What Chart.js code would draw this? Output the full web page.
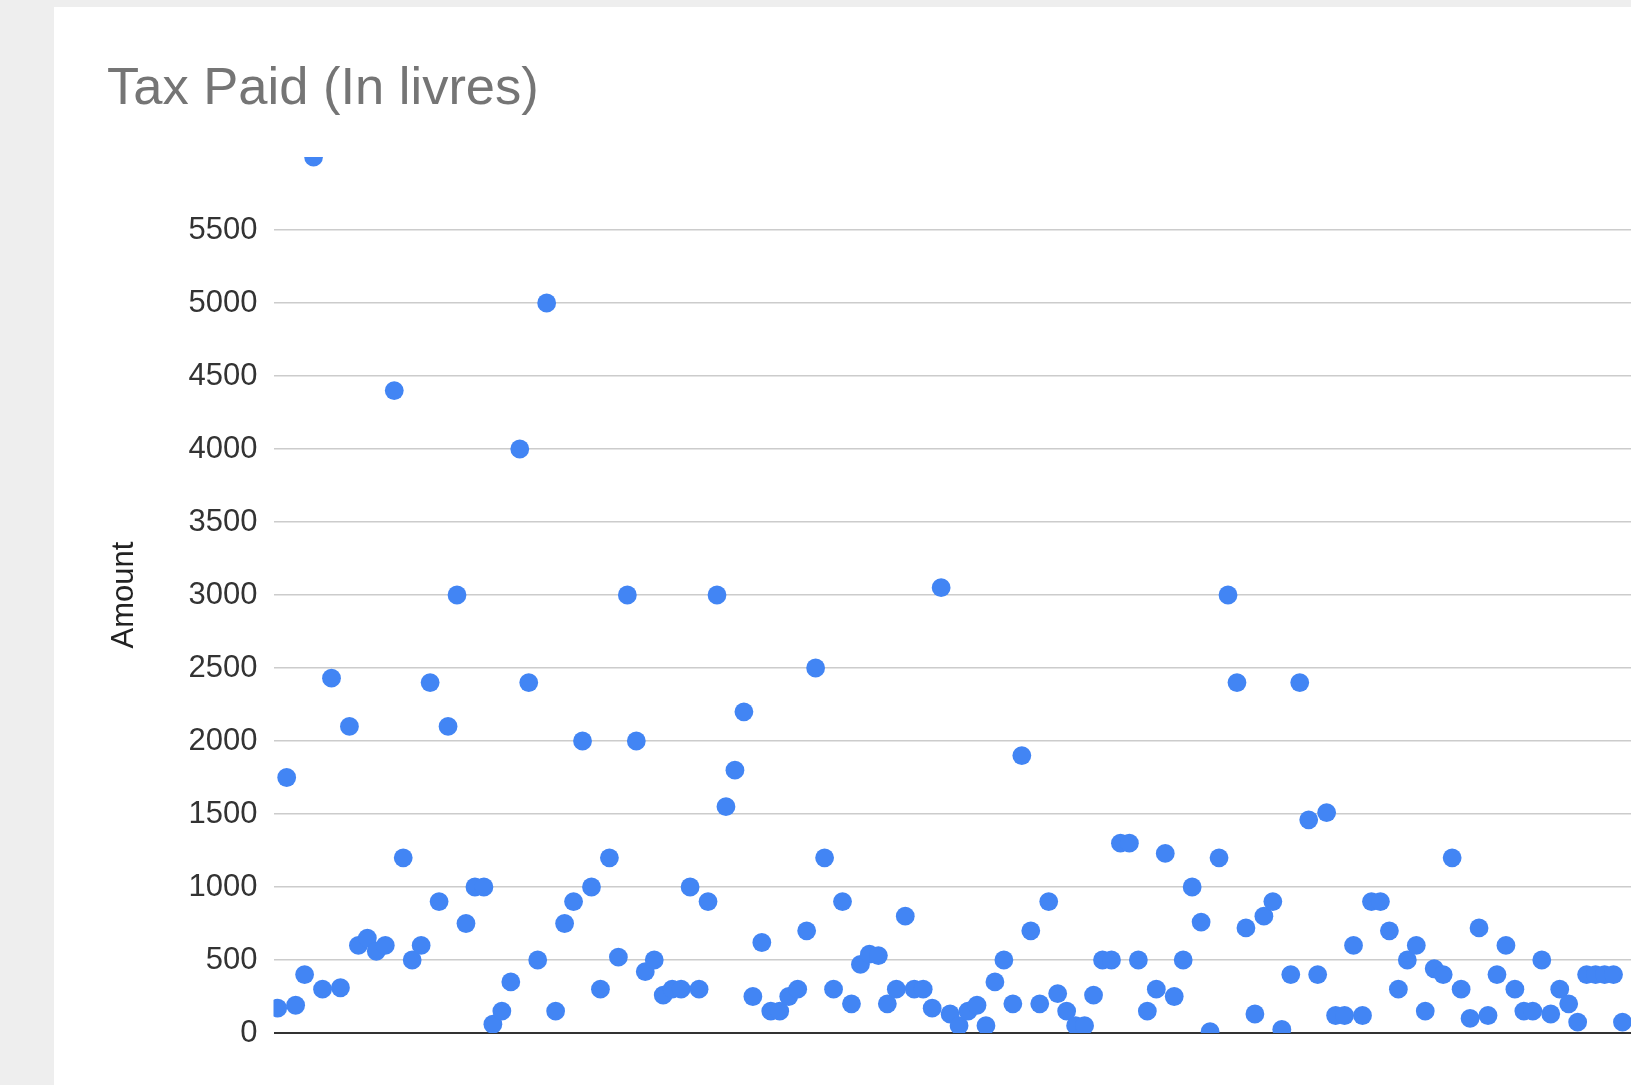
<!DOCTYPE html>
<html><head><meta charset="utf-8">
<script src="https://cdn.jsdelivr.net/npm/chart.js@4.4.0/dist/chart.umd.min.js"></script>
<style>
html,body{margin:0;padding:0;background:#eeeeee;overflow:hidden;width:1631px;height:1085px;}
#card{position:absolute;left:54px;top:7px;width:1577px;height:1078px;background:#ffffff;}
canvas{display:block;}
</style></head><body>
<div id="card"><canvas id="c" width="1577" height="1078"></canvas></div>
<script>
const chartTitle = 'Tax Paid (In livres)';
const yAxisTitle = 'Amount';
// Tax paid per record, in order along the horizontal axis
const taxPaid = [
  170, 1750, 190, 400, 6000, 300, 2430, 310, 2100, 600,
  650, 560, 600, 4400, 1200, 500, 600, 2400, 900, 2100,
  3000, 750, 1000, 1000, 60, 150, 350, 4000, 2400, 500,
  5000, 150, 750, 900, 2000, 1000, 300, 1200, 520, 3000,
  2000, 420, 500, 260, 300, 300, 1000, 300, 900, 3000,
  1550, 1800, 2200, 250, 620, 150, 150, 250, 300, 700,
  2500, 1200, 300, 900, 200, 470, 540, 530, 200, 300,
  800, 300, 300, 170, 3050, 130, 50, 150, 190, 50,
  350, 500, 200, 1900, 700, 200, 900, 270, 150, 50,
  50, 260, 500, 500, 1300, 1300, 500, 150, 300, 1230,
  250, 500, 1000, 760, 10, 1200, 3000, 2400, 720, 130,
  800, 900, 25, 400, 2400, 1460, 400, 1510, 120, 120,
  600, 120, 900, 900, 700, 300, 500, 600, 150, 440,
  400, 1200, 300, 100, 720, 120, 400, 600, 300, 150,
  150, 500, 130, 300, 200, 75, 400, 400, 400, 400,
  75
];
const yTickValues = [0, 500, 1000, 1500, 2000, 2500, 3000, 3500, 4000, 4500, 5000, 5500];

const points = taxPaid.map((v, i) => ({x: i, y: v}));

new Chart(document.getElementById('c').getContext('2d'), {
  type: 'scatter',
  data: {datasets: [{
    label: 'Amount',
    data: points,
    backgroundColor: '#4285f4',
    borderWidth: 0,
    pointRadius: 9.4,
    pointHoverRadius: 9.4,
    clip: 0
  }]},
  options: {
    responsive: false,
    animation: false,
    devicePixelRatio: 1,
    layout: {autoPadding: false, padding: {left: 53, right: 0, top: 0, bottom: 52}},
    plugins: {
      legend: {display: false},
      tooltip: {enabled: false},
      title: {
        display: true, text: chartTitle, align: 'start', color: '#757575',
        font: {family: '"Liberation Sans", Arial, sans-serif', size: 52.5, weight: 'normal', lineHeight: 1.2},
        padding: {top: 51, bottom: 36}
      }
    },
    scales: {
      x: {type: 'linear', display: false, min: -0.47, max: 150.95},
      y: {
        min: 0, max: 6000,
        afterFit(s) { s.width = 166.5; },
        afterBuildTicks(s) { s.ticks = yTickValues.concat([6000]).map(v => ({value: v})); },
        ticks: {
          padding: 16, color: '#333333',
          font: {family: '"Liberation Sans", Arial, sans-serif', size: 31},
          callback: v => (yTickValues.includes(v) ? String(v) : '')
        },
        grid: {
          drawTicks: false,
          color: c => (c.tick.value === 0 ? '#333333' : (c.tick.value === 6000 ? 'rgba(0,0,0,0)' : '#cccccc')),
          lineWidth: c => (c.tick.value === 0 ? 2 : 1.5)
        },
        border: {display: false},
        title: {
          display: true, text: yAxisTitle, color: '#222222',
          font: {family: '"Liberation Sans", Arial, sans-serif', size: 31, lineHeight: 1.13},
          padding: 0
        }
      }
    }
  }
});
</script>
</body></html>
